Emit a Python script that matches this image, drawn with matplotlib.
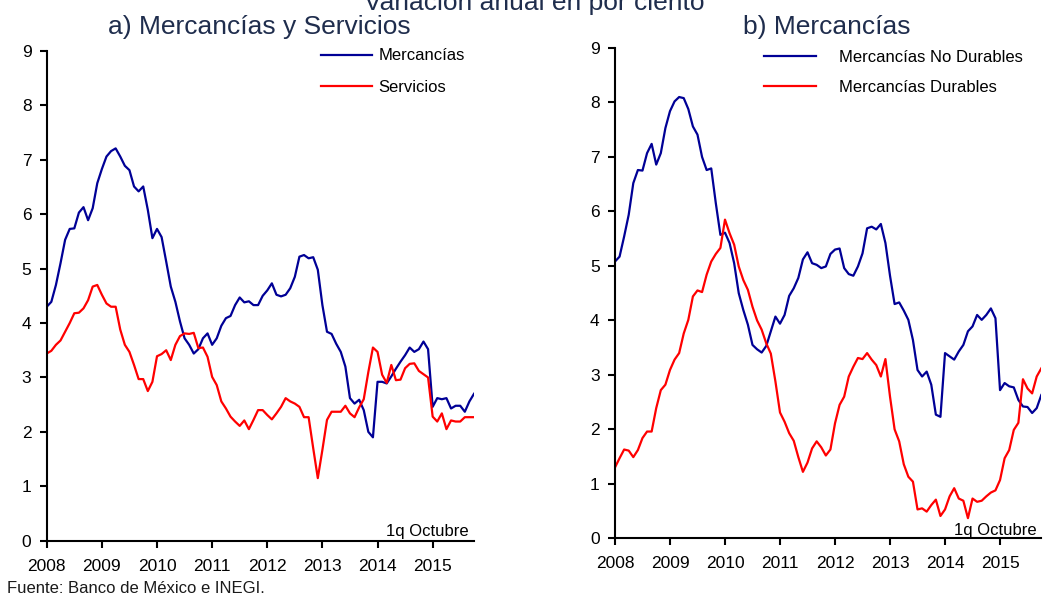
import numpy as np
import matplotlib
matplotlib.use('Agg')
from matplotlib import pyplot as plt

plt.rcParams['font.family'] = ['Liberation Sans', 'DejaVu Sans']

# meses desde ene-2008 hasta 1q oct-2015
years = ['2008', '2009', '2010', '2011', '2012', '2013', '2014', '2015']

mercancias = [4.30, 4.39, 4.70, 5.10, 5.53, 5.73, 5.74, 6.03, 6.13, 5.89, 6.11, 6.57,
              6.83, 7.06, 7.16, 7.21, 7.06, 6.89, 6.81, 6.51, 6.42, 6.51, 6.08, 5.56,
              5.73, 5.58, 5.13, 4.67, 4.39, 4.03, 3.72, 3.60, 3.44, 3.52, 3.72, 3.81,
              3.60, 3.72, 3.95, 4.09, 4.13, 4.33, 4.47, 4.38, 4.40, 4.33, 4.33, 4.50,
              4.60, 4.73, 4.52, 4.49, 4.52, 4.64, 4.85, 5.22, 5.25, 5.19, 5.21, 4.98,
              4.33, 3.84, 3.80, 3.62, 3.47, 3.20, 2.62, 2.52, 2.59, 2.40, 2.00, 1.90,
              2.92, 2.92, 2.89, 3.02, 3.16, 3.29, 3.41, 3.55, 3.47, 3.52, 3.66, 3.52,
              2.46, 2.62, 2.60, 2.62, 2.43, 2.48, 2.48, 2.37, 2.56, 2.70]

servicios = [3.44, 3.49, 3.60, 3.68, 3.84, 4.00, 4.18, 4.19, 4.27, 4.42, 4.67, 4.70,
             4.52, 4.36, 4.30, 4.30, 3.88, 3.60, 3.47, 3.23, 2.97, 2.97, 2.75, 2.92,
             3.39, 3.43, 3.50, 3.32, 3.60, 3.76, 3.81, 3.80, 3.82, 3.54, 3.55, 3.38,
             3.01, 2.86, 2.56, 2.43, 2.28, 2.19, 2.11, 2.21, 2.05, 2.22, 2.40, 2.40,
             2.31, 2.23, 2.34, 2.46, 2.62, 2.56, 2.52, 2.46, 2.27, 2.27, 1.70, 1.15,
             1.67, 2.22, 2.37, 2.37, 2.37, 2.48, 2.34, 2.27, 2.45, 2.60, 3.10, 3.55,
             3.47, 3.05, 2.90, 3.23, 2.95, 2.96, 3.17, 3.25, 3.26, 3.12, 3.06, 3.00,
             2.28, 2.19, 2.34, 2.05, 2.21, 2.19, 2.19, 2.27, 2.27, 2.27]

no_durables = [5.08, 5.17, 5.54, 5.94, 6.52, 6.76, 6.75, 7.07, 7.24, 6.86, 7.07, 7.53,
               7.84, 8.02, 8.10, 8.08, 7.88, 7.56, 7.41, 7.00, 6.76, 6.79, 6.15, 5.57,
               5.61, 5.42, 5.05, 4.50, 4.19, 3.92, 3.55, 3.47, 3.41, 3.53, 3.80, 4.07,
               3.94, 4.10, 4.45, 4.59, 4.78, 5.12, 5.25, 5.05, 5.02, 4.96, 4.99, 5.22,
               5.30, 5.32, 4.96, 4.85, 4.82, 4.99, 5.23, 5.69, 5.72, 5.67, 5.77, 5.42,
               4.82, 4.30, 4.33, 4.18, 4.01, 3.64, 3.09, 2.97, 3.06, 2.82, 2.27, 2.23,
               3.40, 3.34, 3.28, 3.43, 3.55, 3.80, 3.89, 4.10, 4.01, 4.10, 4.22, 4.04,
               2.72, 2.85, 2.79, 2.77, 2.54, 2.42, 2.41, 2.30, 2.39, 2.63]

durables = [1.30, 1.47, 1.63, 1.61, 1.49, 1.62, 1.84, 1.96, 1.96, 2.39, 2.72, 2.82,
            3.09, 3.28, 3.40, 3.76, 4.01, 4.44, 4.55, 4.52, 4.84, 5.08, 5.22, 5.33,
            5.85, 5.60, 5.39, 4.99, 4.74, 4.56, 4.25, 4.00, 3.83, 3.58, 3.39, 2.88,
            2.31, 2.14, 1.93, 1.79, 1.49, 1.22, 1.39, 1.65, 1.78, 1.67, 1.52, 1.63,
            2.11, 2.45, 2.60, 2.97, 3.15, 3.31, 3.29, 3.40, 3.28, 3.18, 2.97, 3.29,
            2.60, 2.00, 1.78, 1.36, 1.13, 1.04, 0.53, 0.55, 0.49, 0.61, 0.71, 0.41,
            0.53, 0.77, 0.92, 0.73, 0.69, 0.37, 0.73, 0.67, 0.69, 0.77, 0.84, 0.88,
            1.07, 1.47, 1.62, 1.99, 2.12, 2.92, 2.75, 2.66, 2.97, 3.12]

meses = np.arange(len(mercancias))
azul = '#000096'
rojo = '#FF0000'
titulo_color = '#1F2D4D'

fig = plt.figure(figsize=(10.48, 5.97), dpi=100)
ax1 = fig.add_axes([0.0446, 0.0943, 0.4077, 0.8203])
ax2 = fig.add_axes([0.5868, 0.0983, 0.4068, 0.8213])


def formato(ax):
    ax.set_xlim(0, len(meses) - 1)
    ax.set_ylim(0, 9)
    ax.set_yticks(range(0, 10))
    ax.set_xticks(range(0, 12 * len(years), 12))
    ax.set_xticklabels(years)
    for s in ['top', 'right']:
        ax.spines[s].set_visible(False)
    for s in ['left', 'bottom']:
        ax.spines[s].set_linewidth(1.5)
    ax.tick_params(direction='out', length=5, width=1.5, labelsize=12.5, pad=6)
    ax.tick_params(axis='x', pad=8)


ax1.plot(meses, mercancias, color=azul, lw=1.6, label='Mercancías')
ax1.plot(meses, servicios, color=rojo, lw=1.6, label='Servicios')
formato(ax1)
ax1.legend(loc='upper left', bbox_to_anchor=(0.306, 0.919), bbox_transform=fig.transFigure,
           frameon=False, fontsize=12, handlelength=3.1, handletextpad=0.35,
           labelspacing=0.98, borderpad=0, borderaxespad=0)
ax1.text(91.8, 0.17, '1q Octubre', ha='right', va='center', fontsize=12)

ax2.plot(meses, no_durables, color=azul, lw=1.6, label='Mercancías No Durables')
ax2.plot(meses, durables, color=rojo, lw=1.6, label='Mercancías Durables')
formato(ax2)
ax2.legend(loc='upper left', bbox_to_anchor=(0.729, 0.916), bbox_transform=fig.transFigure,
           frameon=False, fontsize=12, handlelength=3.1, handletextpad=1.4,
           labelspacing=0.9, borderpad=0, borderaxespad=0)
ax2.text(91.9, 0.15, '1q Octubre', ha='right', va='center', fontsize=12)

fig.text(0.51, 0.983, 'Variación anual en por ciento', ha='center', va='baseline',
         fontsize=19, color=titulo_color)
fig.text(0.247, 0.943, 'a) Mercancías y Servicios', ha='center', va='baseline',
         fontsize=19, color=titulo_color)
fig.text(0.789, 0.943, 'b) Mercancías', ha='center', va='baseline',
         fontsize=19, color=titulo_color)
fig.text(0.007, 0.015, 'Fuente: Banco de México e INEGI.', ha='left', va='center',
         fontsize=12, color='#1a1a1a')

fig.savefig('out.png', dpi=100)
